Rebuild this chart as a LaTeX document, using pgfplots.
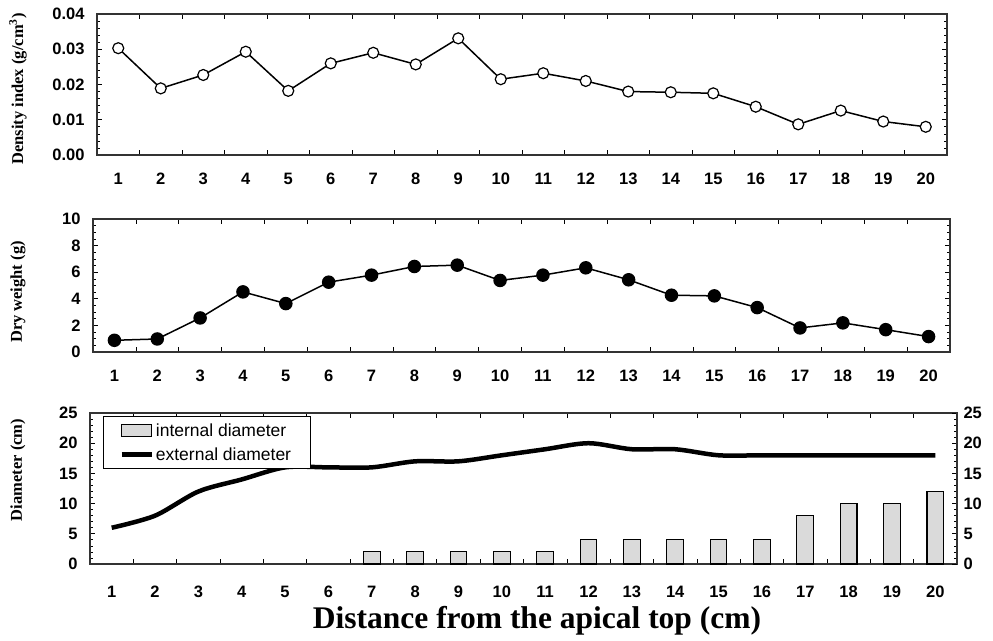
\documentclass[border=0pt]{standalone}
\usepackage{fontspec}
\setmainfont{Liberation Serif}
\setsansfont{Liberation Sans}
\usepackage{pgfplots}
\pgfplotsset{compat=1.18}
\definecolor{bargray}{RGB}{218,218,218}
\newcommand{\tfont}{\sffamily\bfseries\fontsize{16.5}{19}\selectfont}
\newcommand{\gfont}{\sffamily\fontsize{17.5}{20}\selectfont}
\newcommand{\lfont}{\bfseries\fontsize{16.5}{18}\selectfont}

\pgfplotsset{
  panel/.style={
    scale only axis, anchor=north west,
    xmin=0.5, xmax=20.5,
    xtick={0.5,1.5,...,20.5}, x tick label as interval,
    xticklabels={1,2,3,4,5,6,7,8,9,10,11,12,13,14,15,16,17,18,19,20},
    tick align=inside, major tick length=5pt, minor tick length=3pt,
    tick style={black, line width=0.7pt},
    axis line style={line width=1.1pt, black!80},
    ticklabel style={font=\tfont},
    /pgf/number format/assume math mode=true,
    xticklabel style={yshift=-14pt, text height=12pt, text depth=0pt},
    yticklabel style={xshift=-9pt},
    clip=false,
  },
  barleg/.style={legend image code/.code={\path (0pt,0pt); \draw[##1] (13pt,-6pt) rectangle (43pt,6pt);}},
  lineleg/.style={legend image code/.code={\path (0pt,0pt); \draw[##1] (13pt,0pt) -- (43pt,0pt);}},
}

\begin{document}
\begin{tikzpicture}
\useasboundingbox (0,0) rectangle (993pt,-640pt);

% panel 1: density index
\begin{axis}[panel, at={(97pt,-14pt)}, width=850pt, height=141pt,
    ymin=0, ymax=0.04, ytick={0,0.01,0.02,0.03,0.04}, minor y tick num=4,
    scaled y ticks=false,
    yticklabel style={/pgf/number format/.cd, fixed, fixed zerofill, precision=2}]
\addplot[black, line width=1.5pt, mark=*, mark size=5.5pt,
    mark options={fill=white, line width=1.2pt}]
  coordinates {(1,0.0303) (2,0.0189) (3,0.0227) (4,0.0293) (5,0.0182)
    (6,0.0260) (7,0.0290) (8,0.0257) (9,0.0331) (10,0.0215)
    (11,0.0232) (12,0.0210) (13,0.0180) (14,0.0178) (15,0.0175)
    (16,0.0137) (17,0.0087) (18,0.0126) (19,0.0095) (20,0.0080)};
\end{axis}

% panel 2: dry weight
\begin{axis}[panel, at={(93pt,-219pt)}, width=857pt, height=133pt,
    ymin=0, ymax=10, ytick={0,2,4,6,8,10}, minor y tick num=3]
\addplot[black, line width=1.5pt, mark=*, mark size=6pt]
  coordinates {(1,0.88) (2,0.98) (3,2.56) (4,4.52) (5,3.64)
    (6,5.25) (7,5.78) (8,6.43) (9,6.53) (10,5.38)
    (11,5.78) (12,6.33) (13,5.43) (14,4.27) (15,4.22)
    (16,3.34) (17,1.81) (18,2.19) (19,1.68) (20,1.16)};
\end{axis}

% panel 3: diameters
\begin{axis}[panel, at={(90pt,-413pt)}, width=867pt, height=151pt,
    ymin=0, ymax=25, ytick={0,5,10,15,20,25}, minor y tick num=4,
    ytick pos=left, xticklabel style={yshift=-4pt},
    legend style={at={(0.015,0.98)}, anchor=north west, draw=black,
      line width=0.8pt, font=\gfont, inner ysep=5pt, row sep=6pt},
    legend cell align=left]
\addplot[ybar, bar width=16.7pt, fill=bargray, draw=black, line width=1.1pt, barleg]
  coordinates {(7,2) (8,2) (9,2) (10,2)
    (11,2) (12,4) (13,4) (14,4) (15,4) (16,4) (17,8) (18,10) (19,10) (20,12)};
\addlegendentry{internal diameter\hspace*{14pt}}
\addplot[black, line width=4.5pt, smooth, lineleg]
  coordinates {(1,6) (2,8) (3,12) (4,14) (5,16) (6,16) (7,16) (8,17) (9,17)
    (10,18) (11,19) (12,20) (13,19) (14,19) (15,18) (16,18) (17,18) (18,18)
    (19,18) (20,18)};
\addlegendentry{external diameter\hspace*{14pt}}
\end{axis}
\begin{axis}[panel, at={(90pt,-413pt)}, width=867pt, height=151pt,
    ymin=0, ymax=25, ytick={0,5,10,15,20,25}, minor y tick num=4,
    axis y line*=right, axis x line=none,
    yticklabel style={xshift=12pt}]
\end{axis}

\node[rotate=90, font=\lfont] at (18pt,-89pt) {Density index (g/cm\textsuperscript{3})};
\node[rotate=90, font=\lfont] at (18pt,-292pt) {Dry weight (g)};
\node[rotate=90, font=\lfont] at (18pt,-470pt) {Diameter (cm)};
\node[font=\bfseries\fontsize{31.5}{34}\selectfont] at (537pt,-621pt)
  {Distance from the apical top (cm)};
\end{tikzpicture}
\end{document}
